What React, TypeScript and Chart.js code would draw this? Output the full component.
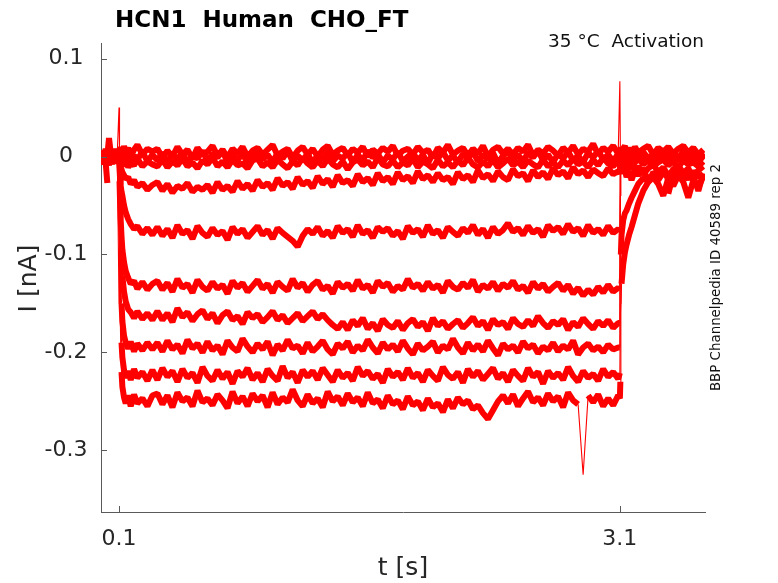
import { useEffect, useRef } from 'react';
import { Chart, registerables } from 'chart.js';

Chart.register(...registerables);

// ---- axis settings / tick labels ----
const xMin = -0.008;
const xMax = 3.61;
const yMin = -0.363;
const yMax = 0.116;
const xTickValues = [0.1, 3.1];
const xTickLabels = ['0.1', '3.1'];
const yTickValues = [-0.3, -0.2, -0.1, 0, 0.1];
const yTickLabels = ['-0.3', '-0.2', '-0.1', '0', '0.1'];

const titleText = 'HCN1  Human  CHO_FT';
const subtitleText = '35 °C  Activation';
const sideText = 'BBP Channelpedia ID 40589 rep 2';
const xTitle = 't [s]';
const yTitle = 'I [nA]';

// ---- sample times (s) shared by every trace ----
const times = [
  0, 0.01, 0.02, 0.03, 0.04, 0.05, 0.06, 0.07, 0.08, 0.09, 0.1,
  0.103, 0.106, 0.11, 0.115, 0.12, 0.13, 0.14, 0.155, 0.17, 0.19, 0.21, 0.24, 0.27, 0.3,
  0.33, 0.36, 0.39, 0.42, 0.45, 0.48, 0.51, 0.54, 0.57, 0.6,
  0.63, 0.66, 0.69, 0.72, 0.75, 0.78, 0.81, 0.84, 0.87, 0.9,
  0.93, 0.96, 0.99, 1.02, 1.05, 1.08, 1.11, 1.14, 1.17, 1.2,
  1.23, 1.26, 1.29, 1.32, 1.35, 1.38, 1.41, 1.44, 1.47, 1.5,
  1.53, 1.56, 1.59, 1.62, 1.65, 1.68, 1.71, 1.74, 1.77, 1.8,
  1.83, 1.86, 1.89, 1.92, 1.95, 1.98, 2.01, 2.04, 2.07, 2.1,
  2.13, 2.16, 2.19, 2.22, 2.25, 2.28, 2.31, 2.34, 2.37, 2.4,
  2.43, 2.46, 2.49, 2.52, 2.55, 2.58, 2.61, 2.64, 2.67, 2.7,
  2.73, 2.76, 2.79, 2.82, 2.85, 2.88, 2.91, 2.94, 2.97, 3.0,
  3.03, 3.06, 3.09,
  3.1, 3.103, 3.106, 3.11, 3.12, 3.13, 3.14, 3.155, 3.17, 3.19, 3.21, 3.24, 3.27, 3.3,
  3.33, 3.36, 3.39, 3.42, 3.45, 3.48, 3.51, 3.54, 3.57, 3.6,
];

// ---- current traces (nA) ----
const traceZ1 = [
  0.006, -0.003, 0.008, 0.001, 0.019, 0.004, -0.002, 0.007, 0.002, 0.006, 0.05,
  0.004, 0.01, 0.002, 0.008, -0.001, 0.011, 0.003, 0.009, 0, 0.007, 0.012, 0.002, 0.008, 0.005,
  0.008, -0.001, 0.006, 0.0, 0.01, 0.002, 0.007, -0.002, 0.009, 0.002,
  0.005, 0.011, 0.001, 0.007, -0.001, 0.008, 0.003, 0.01, 0.0, 0.006,
  0.009, 0.002, 0.007, 0.012, 0.001, 0.005, 0.008, -0.001, 0.006, 0.01,
  0.002, 0.008, 0.0, 0.007, 0.011, 0.002, 0.006, 0.009, 0.001, 0.008,
  0.004, 0.01, 0.0, 0.007, 0.003, 0.009, 0.005, 0.011, 0.001, 0.006,
  0.008, 0.002, 0.01, 0.004, 0.007, -0.001, 0.009, 0.004, 0.012, 0.002,
  0.006, 0.009, 0.001, 0.008, 0.003, 0.011, 0.0, 0.007, 0.01, 0.003,
  0.008, 0.002, 0.009, 0.005, 0.012, 0.001, 0.007, 0.003, 0.01, 0.006,
  0.001, 0.009, 0.004, 0.011, 0.002, 0.008, 0.005, 0.013, 0.002, 0.009,
  0.005, 0.011, 0.003,
  0.077, 0.006, 0.01, 0.002, 0.008, 0.011, 0.003, 0.009, 0.001, 0.01, 0.004, 0.008, 0.011, 0.002,
  0.009, 0.005, 0.01, 0.003, 0.008, 0.011, 0.004, 0.009, 0.002, 0.007,
];

const traceZ2 = [
  -0.004, 0.003, -0.006, -0.027, 0.002, -0.005, 0.004, -0.003, 0.005, -0.002, -0.15,
  -0.003, 0.005, -0.006, 0.002, -0.004, 0.006, -0.002, 0.003, -0.007, 0.001, -0.003, 0.005, -0.005, 0.002,
  -0.004, 0.004, -0.006, 0.002, -0.003, 0.005, -0.007, 0.001, -0.002, 0.006,
  -0.005, 0.003, -0.001, 0.006, -0.006, 0.002, -0.004, 0.004, -0.008, 0.001,
  0.005, -0.003, 0.002, -0.006, 0.004, -0.002, 0.006, -0.005, 0.001, -0.004,
  0.003, -0.007, 0.002, -0.003, 0.005, -0.005, 0.001, -0.002, 0.004, -0.006,
  0.002, -0.004, 0.006, -0.001, 0.003, -0.006, 0.001, -0.003, 0.005, -0.005,
  0.0, 0.004, -0.004, 0.002, -0.007, 0.003, -0.002, 0.005, -0.004, 0.001,
  -0.006, 0.003, -0.002, 0.005, -0.005, 0.002, -0.003, 0.004, -0.007, 0.001,
  0.005, -0.003, 0.002, -0.005, 0.004, -0.001, 0.006, -0.004, 0.002, -0.006,
  0.003, -0.002, 0.005, -0.004, 0.001, -0.006, 0.004, -0.001, 0.006, -0.003,
  0.002, -0.005, 0.003,
  -0.003, 0.004, -0.005, 0.003, -0.002, 0.005, -0.006, 0.002, -0.004, 0.006, -0.003, 0.001, -0.006, 0.004,
  -0.002, 0.005, -0.005, 0.002, -0.004, 0.006, -0.001, 0.003, -0.005, 0.002,
];

const traceZ3 = [
  0.002, -0.008, 0.005, -0.004, -0.009, 0.003, -0.006, 0.001, -0.007, 0.004, -0.002,
  -0.004, -0.009, -0.002, -0.01, -0.005, -0.01, -0.003, -0.011, -0.006, -0.009, -0.002, -0.01, -0.005, -0.008,
  -0.01, -0.003, -0.011, -0.005, -0.009, -0.002, -0.01, -0.006, -0.012, -0.004,
  -0.008, -0.001, -0.01, -0.005, -0.011, -0.003, -0.009, -0.007, -0.012, -0.004,
  -0.002, -0.01, -0.006, -0.011, -0.003, -0.008, -0.012, -0.005, -0.009, -0.001,
  -0.007, -0.011, -0.004, -0.01, -0.002, -0.008, -0.011, -0.005, -0.013, -0.006,
  -0.003, -0.009, -0.005, -0.011, -0.001, -0.008, -0.01, -0.004, -0.011, -0.006,
  -0.009, -0.002, -0.011, -0.005, -0.008, -0.012, -0.003, -0.01, -0.006, -0.011,
  -0.004, -0.009, -0.001, -0.008, -0.011, -0.005, -0.01, -0.003, -0.011, -0.007,
  -0.002, -0.009, -0.005, -0.011, -0.004, -0.008, -0.011, -0.003, -0.01, -0.006,
  -0.011, -0.004, -0.009, -0.002, -0.008, -0.005, -0.011, -0.003, -0.009, -0.001,
  -0.007, -0.01, -0.004,
  -0.006, -0.004, -0.009, -0.002, -0.008, -0.005, -0.01, -0.003, -0.009, -0.006, -0.002, -0.008, -0.004, -0.01,
  -0.006, -0.003, -0.009, -0.005, -0.011, -0.004, -0.008, -0.006, -0.01, -0.005,
];

const traceA = [
  -0.006, 0.004, -0.002, 0.006, -0.005, 0.002, -0.008, 0.005, -0.003, 0.001, 0.003,
  -0.004, -0.008, -0.011, -0.013, -0.016, -0.019, -0.023, -0.021, -0.028, -0.024, -0.031, -0.027, -0.034, -0.029,
  -0.026, -0.035, -0.028, -0.037, -0.03, -0.033, -0.027, -0.036, -0.031, -0.034,
  -0.029, -0.037, -0.026, -0.034, -0.03, -0.036, -0.025, -0.033, -0.028, -0.035,
  -0.024, -0.031, -0.027, -0.034, -0.022, -0.03, -0.026, -0.033, -0.021, -0.029,
  -0.025, -0.032, -0.02, -0.028, -0.023, -0.031, -0.019, -0.027, -0.024, -0.03,
  -0.018, -0.026, -0.022, -0.029, -0.017, -0.025, -0.021, -0.028, -0.016, -0.024,
  -0.02, -0.027, -0.015, -0.023, -0.019, -0.026, -0.017, -0.024, -0.021, -0.028,
  -0.016, -0.023, -0.019, -0.026, -0.014, -0.022, -0.018, -0.025, -0.015, -0.021,
  -0.024, -0.013, -0.02, -0.017, -0.025, -0.014, -0.021, -0.016, -0.023, -0.012,
  -0.019, -0.015, -0.022, -0.011, -0.018, -0.014, -0.021, -0.013, -0.017, -0.02,
  -0.012, -0.018, -0.015,
  -0.017, 0.002, -0.006, 0.004, -0.003, 0.006, -0.005, 0.001, -0.004, 0.005, -0.002, 0.003, -0.006, 0.002,
  -0.003, 0.004, -0.005, 0.0, -0.004, 0.005, -0.002, 0.003, -0.006, 0.001,
];

const traceB = [
  0.003, -0.005, 0.007, -0.002, 0.004, -0.007, 0.002, -0.004, 0.006, -0.001, -0.004,
  -0.012, -0.022, -0.03, -0.036, -0.04, -0.05, -0.057, -0.064, -0.069, -0.074, -0.071, -0.079, -0.073, -0.08,
  -0.072, -0.081, -0.074, -0.083, -0.07, -0.079, -0.075, -0.084, -0.071, -0.078,
  -0.082, -0.073, -0.08, -0.076, -0.085, -0.072, -0.079, -0.074, -0.083, -0.077,
  -0.071, -0.08, -0.075, -0.084, -0.073, -0.078, -0.082, -0.086, -0.092, -0.081,
  -0.074, -0.079, -0.072, -0.081, -0.076, -0.083, -0.071, -0.078, -0.074, -0.082,
  -0.07, -0.079, -0.075, -0.083, -0.072, -0.077, -0.073, -0.081, -0.076, -0.084,
  -0.071, -0.078, -0.074, -0.082, -0.07, -0.079, -0.075, -0.083, -0.072, -0.077,
  -0.081, -0.073, -0.078, -0.07, -0.08, -0.074, -0.083, -0.072, -0.079, -0.075,
  -0.068, -0.077, -0.073, -0.08, -0.071, -0.078, -0.074, -0.082, -0.07, -0.076,
  -0.072, -0.079, -0.069, -0.077, -0.073, -0.081, -0.07, -0.078, -0.074, -0.08,
  -0.071, -0.078, -0.074,
  -0.076, -0.04, -0.015, -0.008, -0.002, 0.004, -0.005, 0.002, -0.006, 0.003, -0.001, 0.005, -0.004, 0.002,
  -0.006, 0.004, -0.002, 0.006, -0.003, 0.001, -0.005, 0.003, -0.002, 0.004,
];

const traceC = [
  -0.002, 0.006, -0.004, 0.003, -0.007, 0.005, -0.001, 0.008, -0.005, 0.002, 0.001,
  -0.025, -0.045, -0.065, -0.082, -0.095, -0.108, -0.117, -0.124, -0.13, -0.127, -0.135, -0.128, -0.136, -0.13,
  -0.127, -0.136, -0.129, -0.138, -0.125, -0.134, -0.13, -0.139, -0.126, -0.133,
  -0.137, -0.128, -0.135, -0.131, -0.14, -0.127, -0.134, -0.129, -0.138, -0.132,
  -0.126, -0.135, -0.13, -0.139, -0.128, -0.133, -0.137, -0.125, -0.134, -0.129,
  -0.138, -0.131, -0.127, -0.136, -0.132, -0.14, -0.128, -0.134, -0.13, -0.137,
  -0.126, -0.135, -0.131, -0.139, -0.127, -0.133, -0.129, -0.138, -0.132, -0.136,
  -0.125, -0.134, -0.13, -0.137, -0.128, -0.135, -0.131, -0.139, -0.127, -0.133,
  -0.136, -0.129, -0.134, -0.126, -0.138, -0.131, -0.135, -0.128, -0.137, -0.13,
  -0.134, -0.127, -0.136, -0.132, -0.139, -0.128, -0.135, -0.13, -0.138, -0.133,
  -0.129, -0.137, -0.131, -0.14, -0.134, -0.142, -0.136, -0.141, -0.133, -0.139,
  -0.131, -0.138, -0.134,
  -0.136, -0.01, -0.004, 0.003, -0.006, 0.001, -0.003, 0.005, -0.007, 0.002, -0.004, 0.004, -0.001, -0.006,
  0.003, -0.003, 0.005, -0.005, 0.001, -0.002, 0.004, -0.006, 0.002, -0.001,
];

const traceD = [
  0.005, -0.001, 0.003, -0.006, 0.007, -0.003, 0.004, -0.002, 0.001, -0.006, -0.003,
  -0.035, -0.06, -0.085, -0.108, -0.122, -0.138, -0.148, -0.156, -0.159, -0.165, -0.158, -0.166, -0.16, -0.167,
  -0.158, -0.167, -0.16, -0.169, -0.155, -0.164, -0.159, -0.168, -0.161, -0.157,
  -0.166, -0.16, -0.17, -0.162, -0.158, -0.167, -0.163, -0.171, -0.159, -0.165,
  -0.161, -0.169, -0.164, -0.158, -0.167, -0.162, -0.17, -0.165, -0.16, -0.168,
  -0.163, -0.158, -0.166, -0.161, -0.167, -0.172, -0.176, -0.169, -0.177, -0.167,
  -0.173, -0.165, -0.176, -0.17, -0.178, -0.166, -0.172, -0.175, -0.168, -0.177,
  -0.17, -0.166, -0.174, -0.169, -0.178, -0.165, -0.173, -0.168, -0.176, -0.171,
  -0.167, -0.175, -0.17, -0.164, -0.173, -0.168, -0.177, -0.166, -0.172, -0.169,
  -0.176, -0.165, -0.171, -0.174, -0.167, -0.173, -0.163, -0.17, -0.175, -0.168,
  -0.172, -0.166, -0.177, -0.169, -0.174, -0.165, -0.171, -0.176, -0.168, -0.173,
  -0.167, -0.175, -0.17,
  -0.17, -0.008, -0.012, -0.006, -0.014, -0.009, -0.016, -0.011, -0.007, -0.015, -0.01, -0.018, -0.012, -0.008,
  -0.016, -0.011, -0.02, -0.013, -0.009, -0.017, -0.012, -0.022, -0.014, -0.01,
];

const traceE = [
  -0.007, 0.002, -0.003, 0.005, -0.001, 0.006, -0.005, 0.003, -0.004, 0.007, 0.002,
  -0.05, -0.09, -0.125, -0.15, -0.168, -0.183, -0.19, -0.196, -0.189, -0.199, -0.191, -0.198, -0.19, -0.197,
  -0.19, -0.199, -0.188, -0.197, -0.192, -0.201, -0.187, -0.196, -0.191, -0.2,
  -0.189, -0.198, -0.193, -0.202, -0.188, -0.195, -0.199, -0.186, -0.194, -0.2,
  -0.191, -0.197, -0.189, -0.203, -0.192, -0.198, -0.187, -0.196, -0.193, -0.201,
  -0.19, -0.199, -0.194, -0.188, -0.197, -0.202, -0.191, -0.196, -0.189, -0.2,
  -0.193, -0.198, -0.187, -0.195, -0.201, -0.19, -0.197, -0.192, -0.199, -0.188,
  -0.196, -0.202, -0.191, -0.198, -0.194, -0.189, -0.2, -0.193, -0.197, -0.186,
  -0.195, -0.201, -0.19, -0.198, -0.192, -0.199, -0.188, -0.196, -0.203, -0.191,
  -0.197, -0.193, -0.2, -0.189, -0.196, -0.192, -0.201, -0.194, -0.198, -0.19,
  -0.199, -0.193, -0.197, -0.188, -0.202, -0.195, -0.191, -0.198, -0.194, -0.2,
  -0.192, -0.197, -0.195,
  -0.195, -0.012, -0.018, -0.01, -0.016, -0.013, -0.021, -0.015, -0.024, -0.014, -0.019, -0.012, -0.026, -0.016,
  -0.021, -0.013, -0.038, -0.018, -0.015, -0.023, -0.014, -0.02, -0.035, -0.017,
];

const traceF = [
  0.001, -0.006, 0.004, -0.003, 0.006, -0.002, 0.005, -0.007, 0.003, -0.001, -0.005,
  -0.07, -0.12, -0.16, -0.19, -0.205, -0.218, -0.226, -0.219, -0.228, -0.217, -0.226, -0.22, -0.229, -0.218,
  -0.228, -0.216, -0.225, -0.219, -0.23, -0.217, -0.226, -0.221, -0.231, -0.215,
  -0.224, -0.229, -0.218, -0.227, -0.22, -0.232, -0.219, -0.225, -0.216, -0.228,
  -0.221, -0.23, -0.217, -0.224, -0.229, -0.214, -0.226, -0.22, -0.231, -0.218,
  -0.225, -0.219, -0.228, -0.216, -0.223, -0.23, -0.218, -0.226, -0.221, -0.229,
  -0.215, -0.224, -0.219, -0.227, -0.222, -0.231, -0.217, -0.225, -0.22, -0.228,
  -0.216, -0.226, -0.221, -0.23, -0.218, -0.224, -0.229, -0.215, -0.223, -0.227,
  -0.22, -0.231, -0.217, -0.225, -0.219, -0.228, -0.222, -0.216, -0.227, -0.221,
  -0.23, -0.218, -0.224, -0.229, -0.216, -0.225, -0.22, -0.232, -0.219, -0.226,
  -0.221, -0.228, -0.215, -0.224, -0.23, -0.219, -0.226, -0.222, -0.229, -0.217,
  -0.225, -0.22, -0.227,
  -0.221, -0.15, -0.1, -0.08, -0.065, -0.058, -0.055, -0.048, -0.042, -0.035, -0.028, -0.022, -0.025, -0.018,
  -0.024, -0.016, -0.022, -0.014, -0.02, -0.017, -0.023, -0.015, -0.021, -0.018,
];

const traceG = [
  0.004, 0.0, -0.005, 0.007, -0.003, 0.002, -0.006, 0.004, -0.002, 0.005, 0.0,
  -0.09, -0.15, -0.19, -0.22, -0.235, -0.246, -0.252, -0.244, -0.255, -0.243, -0.252, -0.247, -0.255, -0.244,
  -0.242, -0.253, -0.244, -0.256, -0.241, -0.25, -0.246, -0.255, -0.239, -0.251,
  -0.247, -0.254, -0.243, -0.249, -0.257, -0.24, -0.252, -0.245, -0.255, -0.242,
  -0.25, -0.244, -0.256, -0.241, -0.253, -0.246, -0.251, -0.238, -0.249, -0.255,
  -0.243, -0.252, -0.247, -0.256, -0.24, -0.25, -0.245, -0.254, -0.242, -0.251,
  -0.246, -0.255, -0.241, -0.252, -0.248, -0.257, -0.244, -0.253, -0.249, -0.258,
  -0.245, -0.254, -0.25, -0.259, -0.247, -0.256, -0.252, -0.261, -0.248, -0.257,
  -0.246, -0.253, -0.249, -0.258, -0.254, -0.262, -0.268, -0.259, -0.25, -0.244,
  -0.252, -0.243, -0.255, -0.247, -0.24, -0.251, -0.246, -0.254, -0.242, -0.25,
  -0.245, -0.256, -0.241, -0.249, -0.253, -0.325, -0.244, -0.251, -0.243, -0.255,
  -0.247, -0.254, -0.244,
  -0.247, -0.23, -0.16, -0.13, -0.11, -0.098, -0.09, -0.08, -0.072, -0.06, -0.048, -0.035, -0.026, -0.021,
  -0.028, -0.04, -0.022, -0.03, -0.019, -0.026, -0.042, -0.024, -0.031, -0.02,
];

const traces = [traceZ1, traceZ2, traceZ3, traceA, traceB, traceC, traceD, traceE, traceF, traceG];

const FONT = '"DejaVu Sans", "Liberation Sans", sans-serif';
const AXIS_COLOR = '#5a5a5a';
const TEXT_COLOR = '#262626';

export default function App() {
  const ref = useRef<HTMLCanvasElement>(null);

  useEffect(() => {
    if (!ref.current) return;
    // noisy, slowly varying segments are drawn wide (a dense noise band);
    // steep jumps (steps, spikes, fast transients) are drawn thin
    const segWidth = (ctx: any) => {
      const dy = Math.abs(ctx.p1.y - ctx.p0.y);
      return dy > 22 ? 1.1 : 6;
    };
    const datasets = traces.map((tr) => ({
      data: times.slice(0, tr.length).map((t, i) => ({ x: t, y: tr[i] })),
      borderColor: '#ff0000',
      backgroundColor: '#ff0000',
      borderWidth: 6,
      borderJoinStyle: 'bevel',
      borderCapStyle: 'butt',
      pointRadius: 0,
      fill: false,
      tension: 0,
      segment: { borderWidth: segWidth },
    }));

    const annotations = {
      id: 'annotations',
      afterDraw(chart: any) {
        const { ctx, chartArea } = chart;
        const xs = chart.scales.x;
        const ys = chart.scales.y;
        ctx.save();
        // inward ticks
        ctx.strokeStyle = AXIS_COLOR;
        ctx.lineWidth = 1;
        ctx.beginPath();
        yTickValues.forEach((v) => {
          const py = Math.round(ys.getPixelForValue(v)) + 0.5;
          ctx.moveTo(chartArea.left, py);
          ctx.lineTo(chartArea.left + 6, py);
        });
        xTickValues.forEach((v) => {
          const px = Math.round(xs.getPixelForValue(v)) + 0.5;
          ctx.moveTo(px, chartArea.bottom);
          ctx.lineTo(px, chartArea.bottom - 6);
        });
        ctx.stroke();

        // tick labels
        ctx.fillStyle = TEXT_COLOR;
        ctx.font = `22px ${FONT}`;
        ctx.textAlign = 'center';
        ctx.textBaseline = 'middle';
        yTickValues.forEach((v, i) => {
          ctx.fillText(yTickLabels[i], 66, ys.getPixelForValue(v));
        });
        ctx.textBaseline = 'alphabetic';
        xTickValues.forEach((v, i) => {
          ctx.fillText(xTickLabels[i], xs.getPixelForValue(v), 545);
        });

        // axis titles
        ctx.font = `25px ${FONT}`;
        ctx.fillText(xTitle, (chartArea.left + chartArea.right) / 2, 575);
        ctx.save();
        ctx.translate(36, (chartArea.top + chartArea.bottom) / 2 + 1);
        ctx.rotate(-Math.PI / 2);
        ctx.fillText(yTitle, 0, 0);
        ctx.restore();

        // title
        ctx.fillStyle = '#000000';
        ctx.font = `bold 23px ${FONT}`;
        ctx.textAlign = 'left';
        ctx.fillText(titleText, 115, 27);

        // subtitle
        ctx.fillStyle = '#111111';
        ctx.font = `18.5px ${FONT}`;
        ctx.textAlign = 'right';
        ctx.fillText(subtitleText, 704, 47);

        // side text
        ctx.font = `13.4px ${FONT}`;
        ctx.textAlign = 'center';
        ctx.save();
        ctx.translate(720, 277.5);
        ctx.rotate(-Math.PI / 2);
        ctx.fillText(sideText, 0, 0);
        ctx.restore();

        ctx.restore();
      },
    };

    const chart = new Chart(ref.current, {
      type: 'line',
      data: { datasets },
      options: {
        responsive: false,
        animation: false,
        events: [],
        layout: { padding: { left: 0, right: 73, top: 43, bottom: 71 } },
        plugins: {
          legend: { display: false },
          tooltip: { enabled: false },
          title: { display: false },
        },
        scales: {
          x: {
            type: 'linear',
            min: xMin,
            max: xMax,
            grid: { display: false, drawTicks: false },
            border: { display: true, color: AXIS_COLOR, width: 1 },
            ticks: { display: false },
            afterBuildTicks: (s: any) => {
              s.ticks = xTickValues.map((v) => ({ value: v }));
            },
            afterFit: (s: any) => {
              s.height = 0;
            },
          },
          y: {
            type: 'linear',
            min: yMin,
            max: yMax,
            grid: { display: false, drawTicks: false },
            border: { display: true, color: AXIS_COLOR, width: 1 },
            ticks: { display: false },
            afterBuildTicks: (s: any) => {
              s.ticks = yTickValues.map((v) => ({ value: v }));
            },
            afterFit: (s: any) => {
              s.width = 101;
            },
          },
        },
      } as any,
      plugins: [annotations],
    });
    return () => chart.destroy();
  }, []);

  return (
    <div style={{ position: 'absolute', left: 0, top: 0, width: 778, height: 583, background: '#ffffff' }}>
      <canvas ref={ref} width={778} height={583} style={{ display: 'block' }} />
    </div>
  );
}
